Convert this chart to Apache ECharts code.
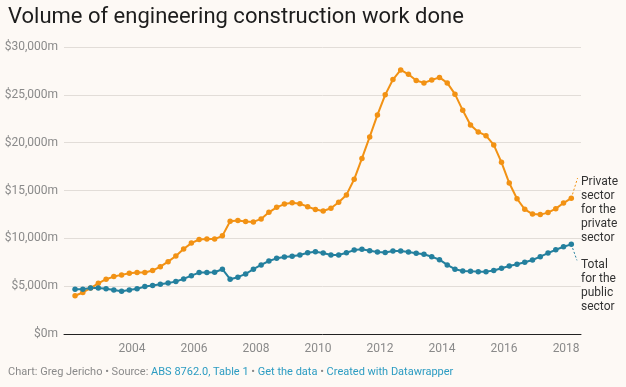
<!DOCTYPE html>
<html>
<head>
<meta charset="utf-8">
<script src="https://cdn.jsdelivr.net/npm/echarts@6/dist/echarts.min.js"></script>
<style>
html,body{margin:0;padding:0;background:#fdf9f5;}
#chart{width:626px;height:387px;}
</style>
</head>
<body>
<div id="chart"></div>
<script>
const quarters = [
'2002-03','2002-06','2002-09','2002-12','2003-03','2003-06','2003-09','2003-12',
'2004-03','2004-06','2004-09','2004-12','2005-03','2005-06','2005-09','2005-12',
'2006-03','2006-06','2006-09','2006-12','2007-03','2007-06','2007-09','2007-12',
'2008-03','2008-06','2008-09','2008-12','2009-03','2009-06','2009-09','2009-12',
'2010-03','2010-06','2010-09','2010-12','2011-03','2011-06','2011-09','2011-12',
'2012-03','2012-06','2012-09','2012-12','2013-03','2013-06','2013-09','2013-12',
'2014-03','2014-06','2014-09','2014-12','2015-03','2015-06','2015-09','2015-12',
'2016-03','2016-06','2016-09','2016-12','2017-03','2017-06','2017-09','2017-12',
'2018-03'];

const privateSector = [
4000,4340,4800,5300,5730,6000,6180,6350,6420,6420,
6630,7040,7560,8150,8880,9500,9880,9920,9920,10260,
11790,11860,11750,11720,12030,12720,13240,13580,13720,13620,
13310,13020,12860,13140,13770,14540,16170,18350,20600,22900,
25000,26600,27600,27150,26500,26250,26550,26820,26250,25070,
23380,21850,21120,20730,19760,17940,15780,14140,13030,12540,
12480,12690,13100,13690,14200];

const publicSector = [
4690,4690,4800,4800,4720,4590,4480,4590,4720,4970,
5070,5210,5320,5490,5760,6100,6420,6420,6460,6770,
5730,5940,6280,6770,7220,7630,7910,8050,8120,8260,
8500,8600,8460,8260,8260,8500,8770,8850,8700,8570,
8530,8670,8670,8570,8430,8330,8080,7770,7220,6770,
6590,6560,6520,6520,6630,6870,7110,7290,7500,7740,
8080,8460,8810,9120,9370];

const xTickLabels = [2004,2006,2008,2010,2012,2014,2016,2018];
const yTicks = [0,5000,10000,15000,20000,25000,30000];

const privateLabel = 'Private\nsector\nfor the\nprivate\nsector';
const publicLabel = 'Total\nfor the\npublic\nsector';

// leader line end points (data space)
const privateLeaderEnd = [2018.37, 16300];
const publicLeaderEnd = [2018.35, 7700];

function toX(q){ const p = q.split('-').map(Number); return p[0] + (p[1]-1)/12; }
const xs = quarters.map(toX);
const privData = xs.map((x,i)=>[x, privateSector[i]]);
const pubData = xs.map((x,i)=>[x, publicSector[i]]);
const last = xs.length - 1;

const ORANGE = '#f29214';
const BLUE = '#24809e';
const FONT = 'Roboto, "Noto Sans", sans-serif';

const chart = echarts.init(document.getElementById('chart'), null, {renderer:'canvas'});
chart.setOption({
  backgroundColor: '#fdf9f5',
  animation: false,
  textStyle: {fontFamily: FONT},
  grid: {left: 64, right: 45, top: 47, bottom: 53, containLabel: false},
  xAxis: {
    type: 'value', min: 2001.81, max: 2018.48,
    axisLine: {show: true, lineStyle: {color: '#222', width: 1}},
    axisTick: {show: false},
    splitLine: {show: false},
    axisLabel: {
      customValues: xTickLabels,
      color: '#8a8a8a', fontSize: 12, fontFamily: FONT, margin: 9,
      formatter: v => String(Math.round(v))
    }
  },
  yAxis: {
    type: 'value', min: 0, max: 30000, interval: 5000,
    axisLine: {show: false}, axisTick: {show: false},
    splitLine: {show: true, lineStyle: {color: '#e2ddd8', width: 1}},
    axisLabel: {
      color: '#8a8a8a', fontSize: 12, fontFamily: FONT, margin: 6,
      formatter: v => '$' + v.toLocaleString('en-US') + 'm'
    }
  },
  series: [
    {
      type: 'line', name: 'Private', data: privData,
      lineStyle: {color: ORANGE, width: 2},
      itemStyle: {color: ORANGE},
      symbol: 'circle', symbolSize: 5.5, showSymbol: true, z: 3
    },
    {
      type: 'line', name: 'Public', data: pubData,
      lineStyle: {color: BLUE, width: 2},
      itemStyle: {color: BLUE},
      symbol: 'circle', symbolSize: 5.5, showSymbol: true, z: 3
    },
    {
      type: 'line', silent: true, symbol: 'none',
      data: [privData[last], privateLeaderEnd],
      lineStyle: {color: ORANGE, width: 1, type: [2,2]}
    },
    {
      type: 'line', silent: true, symbol: 'none',
      data: [pubData[last], publicLeaderEnd],
      lineStyle: {color: BLUE, width: 1, type: [2,2]}
    }
  ],
  graphic: [
    {type: 'text', left: 8, top: 6, style: {text: 'Volume of engineering construction work done', font: '22px ' + FONT, fill: '#1d1d1d'}},
    {type: 'text', left: 581, top: 175, style: {text: privateLabel, font: '12px ' + FONT, fill: '#333', lineHeight: 14}},
    {type: 'text', left: 581, top: 258, style: {text: publicLabel, font: '12px ' + FONT, fill: '#333', lineHeight: 14}},
    {type: 'text', left: 8, top: 367, style: {
      text: '{g|Chart: Greg Jericho • Source: }{l|ABS 8762.0, Table 1}{g| • }{l|Get the data}{g| • }{l|Created with Datawrapper}',
      rich: {
        g: {fill: '#8a8a8a', fontSize: 11, fontFamily: FONT},
        l: {fill: '#2c9cc2', fontSize: 11, fontFamily: FONT}
      }
    }}
  ]
});
</script>
</body>
</html>
